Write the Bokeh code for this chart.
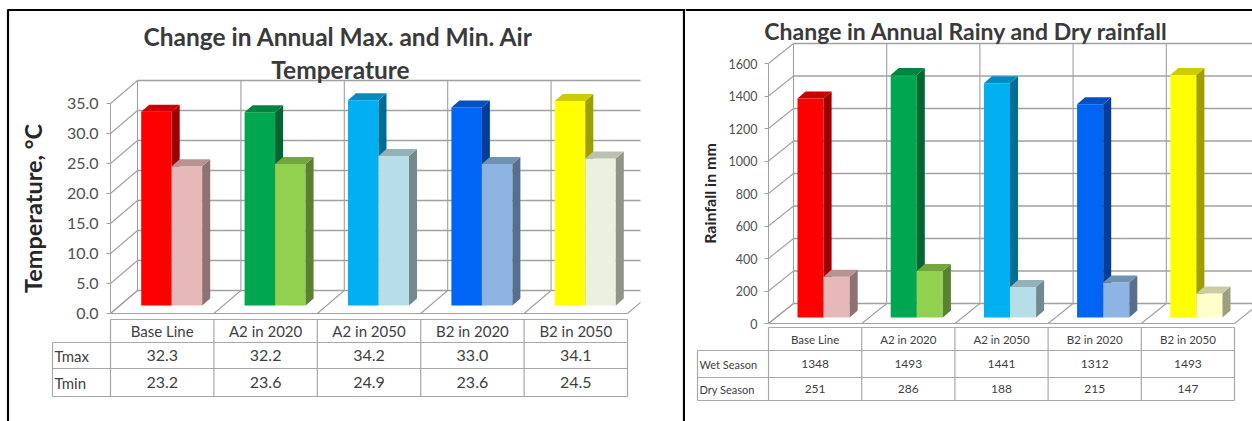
from bokeh.plotting import figure
from bokeh.models import Range1d, FixedTicker, NumeralTickFormatter, BasicTickFormatter
from bokeh.layouts import row
from bokeh.core.properties import value
from bokeh.embed import file_html
from bokeh.resources import INLINE

# ---- data -------------------------------------------------------------
scenarios = ["Base Line", "A2 in 2020", "A2 in 2050", "B2 in 2020", "B2 in 2050"]

tmax = [32.3, 32.2, 34.2, 33.0, 34.1]
tmin = [23.2, 23.6, 24.9, 23.6, 24.5]
temp_ticks = [0, 5, 10, 15, 20, 25, 30, 35]

wet_season = [1348, 1493, 1441, 1312, 1493]
dry_season = [251, 286, 188, 215, 147]
rain_ticks = [0, 200, 400, 600, 800, 1000, 1200, 1400, 1600]

# ---- styling ----------------------------------------------------------
FONT = "Lato"
TEXT = "#404040"
GRID = "#a0a0a0"
TABLE_LINE = "#a8a8a8"
MAIN_COLORS = ["#ff0000", "#00a650", "#00b0f0", "#0064f5", "#ffff00"]
TMIN_COLORS = ["#e6b8b7", "#92d050", "#b7dee8", "#8db4e2", "#ebf1de"]
DRY_COLORS = ["#e6b8b7", "#92d050", "#b7dee8", "#8db4e2", "#ffffcc"]
PAGE_H = 421


def shade(hex_color, f):
    h = hex_color.lstrip("#")
    r, g, b = (int(h[i:i + 2], 16) for i in (0, 2, 4))
    return "#%02x%02x%02x" % (int(r * f), int(g * f), int(b * f))


def make_chart(cfg):
    ax_px, cat_px, zero_py, unit_px = cfg["axis_px"], cfg["cat_px"], cfg["zero_py"], cfg["unit_px"]
    left, width = cfg["page_left"], cfg["width"]

    def X(px):
        return (px - ax_px) / cat_px

    def Y(py):
        return (zero_py - py) / unit_px

    p = figure(width=width, height=PAGE_H,
               x_range=Range1d(X(left), X(left + width)),
               y_range=Range1d(Y(PAGE_H), Y(0)),
               x_axis_location=None, y_axis_location="left",
               toolbar_location=None, output_backend="svg",
               min_border=0, outline_line_color=None,
               background_fill_color="white", border_fill_color="white")
    p.xgrid.visible = False
    p.ygrid.visible = False

    n = len(scenarios)
    ymax = cfg["ticks"][-1]
    # wall depth and bar geometry converted to data units
    dx, dy = cfg["depth"][0] / cat_px, cfg["depth"][1] / unit_px
    fdx, fdy = cfg["bar_front"][0] / cat_px, cfg["bar_front"][1] / unit_px
    bdx, bdy = cfg["bar_depth"][0] / cat_px, cfg["bar_depth"][1] / unit_px
    back_right = X(cfg["back_right_px"]) if cfg["back_right_px"] else n + dx

    # back wall gridlines
    ticks = cfg["ticks"]
    p.segment(x0=[dx] * len(ticks), y0=[t + dy for t in ticks],
              x1=[back_right] * len(ticks), y1=[t + dy for t in ticks],
              line_color=GRID, line_width=1.3)
    # side wall gridlines
    p.segment(x0=[0] * len(ticks), y0=ticks, x1=[dx] * len(ticks),
              y1=[t + dy for t in ticks], line_color=GRID, line_width=1.1)
    # back wall vertical gridlines
    vx = [i + dx for i in range(0, n + 1) if i + dx <= back_right]
    p.segment(x0=vx, y0=[dy] * len(vx), x1=vx, y1=[ymax + dy] * len(vx),
              line_color=GRID, line_width=1.1)
    # floor: receding edges, cut where the chart area ends
    fx0, fy0, fx1, fy1 = [], [], [], []
    for i in range(n + 1):
        t = min(1.0, (back_right - i) / dx)
        fx0.append(i)
        fy0.append(0)
        fx1.append(i + dx * t)
        fy1.append(dy * t)
    p.segment(x0=fx0, y0=fy0, x1=fx1, y1=fy1, line_color=GRID, line_width=1.1)
    p.segment(x0=[0], y0=[0], x1=[n], y1=[0], line_color=GRID, line_width=1.1)

    # 3-D columns, two series per scenario
    gap, bw = cfg["gap"], cfg["bar_w"]
    for s, (vals, colors) in enumerate(cfg["series"]):
        xl = [i + gap + s * bw + fdx for i in range(n)]
        xr = [x + bw for x in xl]
        top = [fdy + v for v in vals]
        for i in range(n):
            p.quad(left=xl[i], right=xr[i], bottom=fdy, top=top[i],
                   fill_color=colors[i], line_color=None)
            p.patch(x=[xr[i], xr[i] + bdx, xr[i] + bdx, xr[i]],
                    y=[fdy, fdy + bdy, top[i] + bdy, top[i]],
                    fill_color=shade(colors[i], 0.62), line_color=None)
            p.patch(x=[xl[i], xr[i], xr[i] + bdx, xl[i] + bdx],
                    y=[top[i], top[i], top[i] + bdy, top[i] + bdy],
                    fill_color=shade(colors[i], 0.8), line_color=None)

    # data table under the plot
    tb = cfg["table"]
    ytop, yrows = Y(tb["top"]), [Y(v) for v in tb["rows"]]
    xlab = X(tb["label_left"])
    p.segment(x0=[0], y0=[ytop], x1=[n], y1=[ytop], line_color=TABLE_LINE, line_width=1.2)
    p.segment(x0=[xlab] * 3, y0=yrows, x1=[n] * 3, y1=yrows, line_color=TABLE_LINE, line_width=1.2)
    p.segment(x0=list(range(n + 1)), y0=[ytop] * (n + 1), x1=list(range(n + 1)),
              y1=[yrows[-1]] * (n + 1), line_color=TABLE_LINE, line_width=1.2)
    p.segment(x0=[xlab], y0=[yrows[0]], x1=[xlab], y1=[yrows[-1]], line_color=TABLE_LINE, line_width=1.2)

    centers = [i + 0.5 for i in range(n)]
    p.text(x=centers, y=[(ytop + yrows[0]) / 2] * n, text=scenarios,
           text_font=value(FONT), text_font_size=tb["head_size"], text_color=TEXT,
           text_align="center", text_baseline="middle")
    row_mid = [(yrows[0] + yrows[1]) / 2, (yrows[1] + yrows[2]) / 2]
    for r, (name, (vals, _)) in enumerate(zip(tb["names"], cfg["series"])):
        p.text(x=[xlab + 2 / cat_px], y=[row_mid[r]], text=[name],
               text_font=value(FONT), text_font_size=tb["name_size"], text_color=TEXT,
               text_align="left", text_baseline="middle")
        p.text(x=centers, y=[row_mid[r]] * n, text=[tb["fmt"].format(v) for v in vals],
               text_font=value(FONT), text_font_size=tb["value_size"], text_color=TEXT,
               text_align="center", text_baseline="middle")

    # title
    for line, (cx, cy) in zip(cfg["title"], cfg["title_pos"]):
        p.text(x=[X(cx)], y=[Y(cy)], text=[line], text_font=value(FONT),
               text_font_size=cfg["title_size"], text_font_style="bold",
               text_color="#3a3a3a", text_align="center", text_baseline="middle")

    # value axis drawn on the front edge of the side wall
    yax = p.yaxis[0]
    yax.fixed_location = 0
    yax.bounds = (0, ymax)
    yax.ticker = FixedTicker(ticks=ticks)
    yax.formatter = cfg["formatter"]
    yax.axis_line_color = GRID
    yax.major_tick_line_color = GRID
    yax.major_tick_out = 4
    yax.major_tick_in = 0
    yax.minor_tick_line_color = None
    yax.major_label_text_font = FONT
    yax.major_label_text_font_size = cfg["tick_size"]
    yax.major_label_text_color = "#505050"
    yax.major_label_standoff = cfg["tick_standoff"]
    yax.axis_label = cfg["ylabel"]
    yax.axis_label_text_font = FONT
    yax.axis_label_text_font_style = "bold"
    yax.axis_label_text_font_size = cfg["ylabel_size"]
    yax.axis_label_text_color = "#262626"
    yax.axis_label_standoff = cfg["ylabel_standoff"]

    # black cell borders of the surrounding layout table
    for (x0, y0, x1, y1) in cfg["borders"]:
        p.segment(x0=[X(x0)], y0=[Y(y0)], x1=[X(x1)], y1=[Y(y1)],
                  line_color="black", line_width=2.2)
    return p


left_cfg = dict(
    page_left=0, width=685, axis_px=110, cat_px=103.4, zero_py=313, unit_px=6.0,
    depth=(27, 23), bar_front=(9.5, 8), bar_depth=(8, 7), back_right_px=640,
    gap=0.205, bar_w=0.295,
    ticks=temp_ticks, formatter=NumeralTickFormatter(format="0.0"),
    series=[(tmax, MAIN_COLORS), (tmin, TMIN_COLORS)],
    table=dict(top=319, rows=[342, 368, 396], label_left=52, names=["Tmax", "Tmin"],
               fmt="{:.1f}", head_size="15px", name_size="15px", value_size="16px"),
    title=["Change in Annual Max. and Min. Air", "Temperature"],
    title_pos=[(338, 36), (340, 69)], title_size="24.5px",
    tick_size="16px", tick_standoff=8,
    ylabel="Temperature, \u00b0C", ylabel_size="23.5px", ylabel_standoff=17,
    borders=[(7.5, 9, 7.5, 421), (7, 9.5, 685, 9.5), (683.5, 9, 683.5, 421)],
)

right_cfg = dict(
    page_left=685, width=567, axis_px=768, cat_px=93.2, zero_py=323, unit_px=0.1625,
    depth=(25, 20), bar_front=(8.5, 6), bar_depth=(8, 7), back_right_px=None,
    gap=0.22, bar_w=0.28,
    ticks=rain_ticks, formatter=BasicTickFormatter(),
    series=[(wet_season, MAIN_COLORS), (dry_season, DRY_COLORS)],
    table=dict(top=327, rows=[350, 377, 400], label_left=697, names=["Wet Season", "Dry Season"],
               fmt="{:d}", head_size="11.5px", name_size="11px", value_size="12px"),
    title=["Change in Annual Rainy and Dry rainfall"],
    title_pos=[(966, 30)], title_size="23px",
    tick_size="12.5px", tick_standoff=7,
    ylabel="Rainfall in mm", ylabel_size="16px", ylabel_standoff=7,
    borders=[(685, 9.5, 1252, 9.5)],
)

p1 = make_chart(left_cfg)
p2 = make_chart(right_cfg)
layout = row(p1, p2)

open("out.html", "w").write(file_html(layout, INLINE))
